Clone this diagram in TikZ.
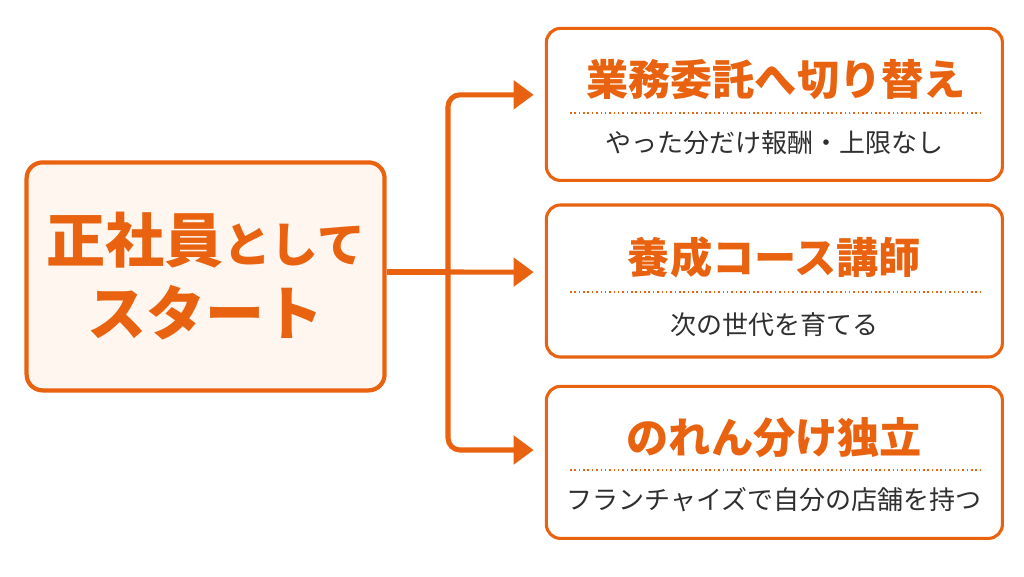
\documentclass[tikz,border=0pt]{standalone}
\usepackage{fontspec}
\setmainfont{Noto Sans CJK JP}
\usepackage{xcolor, tikz}
\usetikzlibrary{arrows.meta,positioning,calc}
\definecolor{carrot}{HTML}{E8620F}
\definecolor{cream}{HTML}{FEF6EF}
\definecolor{ink}{HTML}{2F2F2F}
\tikzstyle{startbox} = [rectangle, rounded corners=0.4cm, minimum width=8.95cm, minimum height=5.7cm, align=center, draw=carrot, line width=3pt, fill=cream, text=carrot, font=\bfseries\fontsize{42}{52}\selectfont]
\tikzstyle{optbox} = [rectangle, rounded corners=0.35cm, minimum width=11.4cm, minimum height=3.8cm, draw=carrot, line width=2.2pt, fill=white]
\tikzstyle{headtext} = [text=carrot, font=\bfseries\fontsize{30}{34}\selectfont]
\tikzstyle{subtext} = [text=ink, font=\fontsize{18.5}{22}\selectfont]
\tikzstyle{dots} = [draw=carrot, line width=1.2pt, dash pattern=on 1.1pt off 2pt]
\tikzstyle{arrow} = [draw=carrot, line width=3.6pt, rounded corners=0.3cm, -{Triangle[length=0.5cm,width=0.7cm]}, shorten >=0.28cm]

\begin{document}
\begin{tikzpicture}

\useasboundingbox[fill=white] (0,0) rectangle (25.6,14.4);

\node (start) [startbox] at (5.14,7.49) {正社員{\fontsize{34}{40}\selectfont として}\\スタート};

\node (opt1) [optbox] at (19.36,11.79) {};
\node (opt2) [optbox] at (19.36,7.375) {};
\node (opt3) [optbox] at (19.36,2.84) {};

% box 1
\node (head1) [headtext] at (19.4,12.4) {業務委託へ切り替え};
\draw [dots] (14.25,11.58) -- (24.5,11.58);
\node (sub1) [subtext] at (19.36,10.83) {やった分だけ報酬・上限なし};

% box 2
\node (head2) [headtext] at (19.36,7.97) {養成コース講師};
\draw [dots] (14.25,7.1) -- (24.5,7.1);
\node (sub2) [subtext] at (19.36,6.28) {次の世代を育てる};

% box 3
\node (head3) [headtext] at (19.36,3.45) {のれん分け独立};
\draw [dots] (14.25,2.65) -- (24.5,2.65);
\node (sub3) [subtext] at (19.36,1.9) {フランチャイズで自分の店舗を持つ};

% connectors
\coordinate (split) at (11.2,7.6);
\draw [draw=carrot, line width=3.6pt] (start.east |- split) -- (split);
\draw [arrow] (split) |- ([yshift=0.24cm]opt1.west);
\draw [arrow] (split) -- ([yshift=0.22cm]opt2.west);
\draw [arrow] (split) |- ([yshift=0.31cm]opt3.west);

\end{tikzpicture}
\end{document}
